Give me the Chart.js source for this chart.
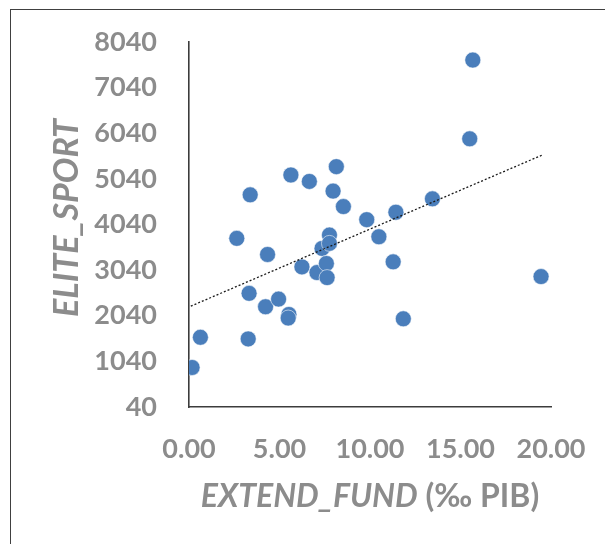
<!DOCTYPE html>
<html>
<head>
<meta charset="utf-8">
<script src="https://cdn.jsdelivr.net/npm/chart.js@4.4.1/dist/chart.umd.min.js"></script>
<style>
  html, body { margin: 0; padding: 0; background: #fff; overflow: hidden; }
  #wrap { position: relative; width: 605px; height: 544px; }
  #frame { position: absolute; left: 10px; top: 9px; width: 700px; height: 700px; border: 1px solid #404040; }
  #chart { position: absolute; left: 0; top: 0; }
</style>
</head>
<body>
<div id="wrap">
  <div id="frame"></div>
  <canvas id="chart" width="605" height="544"></canvas>
</div>
<script>
// values
const extendFund = [0.17, 0.63, 2.64, 3.27, 3.32, 3.38, 4.23, 4.34, 4.95, 5.52, 5.48, 5.63,
  6.24, 6.65, 7.07, 7.35, 7.59, 7.63, 7.76, 7.76, 7.96, 8.14, 8.53, 9.82, 10.49, 11.28,
  11.43, 11.84, 13.45, 15.51, 15.68, 19.45];
const eliteSport = [906, 1568, 3736, 1532, 2531, 4690, 2237, 3383, 2405, 2068, 1990, 5125,
  3111, 4984, 2987, 3515, 3185, 2876, 3809, 3626, 4772, 5308, 4433, 4146, 3771, 3221,
  4309, 1973, 4602, 5918, 7644, 2899];
const trendX = [0.1, 19.5];
const trendY = [2250, 5560];
const yTicks = [40, 1040, 2040, 3040, 4040, 5040, 6040, 7040, 8040];
const xTicks = [0, 5, 10, 15, 20];

const GREY = '#8c8c8c';
const AXIS = '#3c3c3c';
const FONT = "Lato, 'Open Sans', sans-serif";

const points = extendFund.map((x, i) => ({ x, y: eliteSport[i] }));
const trend = trendX.map((x, i) => ({ x, y: trendY[i] }));

// axis titles drawn by hand: the x title mixes italic and upright text
const axisTitles = {
  id: 'axisTitles',
  afterDraw(chart) {
    const { ctx, chartArea } = chart;
    ctx.save();
    ctx.fillStyle = GREY;
    ctx.textBaseline = 'middle';

    ctx.save();
    ctx.translate(67, 218);
    ctx.rotate(-Math.PI / 2);
    ctx.textAlign = 'center';
    ctx.font = `italic bold 34px ${FONT}`;
    ctx.fillText('ELITE_SPORT', 0, 0);
    ctx.restore();

    const a = 'EXTEND_FUND', b = ' (‰ PIB)';
    const fa = `italic bold 32px ${FONT}`, fb = `bold 32px ${FONT}`;
    ctx.font = fa; const wa = ctx.measureText(a).width;
    ctx.font = fb; const wb = ctx.measureText(b).width;
    const x = (chartArea.left + chartArea.right) / 2 - (wa + wb) / 2;
    ctx.textAlign = 'left';
    ctx.font = fa; ctx.fillText(a, x, 497);
    ctx.font = fb; ctx.fillText(b, x + wa, 497);
    ctx.restore();
  },
};

// invisible tick marks push the labels away from the axis lines
const hiddenTicks = (len) => ({
  display: true,
  drawOnChartArea: false,
  drawTicks: true,
  tickLength: len,
  tickColor: 'rgba(0,0,0,0)',
});

new Chart(document.getElementById('chart').getContext('2d'), {
  type: 'scatter',
  data: {
    datasets: [
      {
        type: 'line',
        data: trend,
        borderColor: '#1a1a1a',
        borderWidth: 1.3,
        borderDash: [2, 2],
        pointRadius: 0,
        fill: false,
        order: 0,
      },
      {
        data: points,
        backgroundColor: '#4a7ebb',
        borderColor: 'rgba(255,255,255,0.7)',
        borderWidth: 0.8,
        pointRadius: 8,
        pointHoverRadius: 8,
        order: 1,
      },
    ],
  },
  options: {
    responsive: false,
    animation: false,
    layout: { padding: { top: 42, right: 54, left: 0, bottom: 0 } },
    plugins: { legend: { display: false }, tooltip: { enabled: false } },
    scales: {
      x: {
        type: 'linear',
        min: 0,
        max: 20,
        afterBuildTicks: (s) => { s.ticks = xTicks.map((v) => ({ value: v })); },
        afterFit: (s) => { s.height = 137; },
        grid: hiddenTicks(24),
        border: { display: true, color: AXIS, width: 1.6 },
        ticks: {
          padding: 2,
          color: GREY,
          font: { family: FONT, size: 27, weight: 'bold' },
          maxRotation: 0,
          callback: (v) => Number(v).toFixed(2),
        },
      },
      y: {
        type: 'linear',
        min: 40,
        max: 8040,
        afterBuildTicks: (s) => { s.ticks = yTicks.map((v) => ({ value: v })); },
        afterFit: (s) => { s.width = 189; },
        grid: hiddenTicks(30),
        border: { display: true, color: AXIS, width: 1.6 },
        ticks: {
          padding: 2,
          color: GREY,
          font: { family: FONT, size: 27, weight: 'bold' },
          callback: (v) => String(v),
        },
      },
    },
  },
  plugins: [axisTitles],
});
</script>
</body>
</html>
